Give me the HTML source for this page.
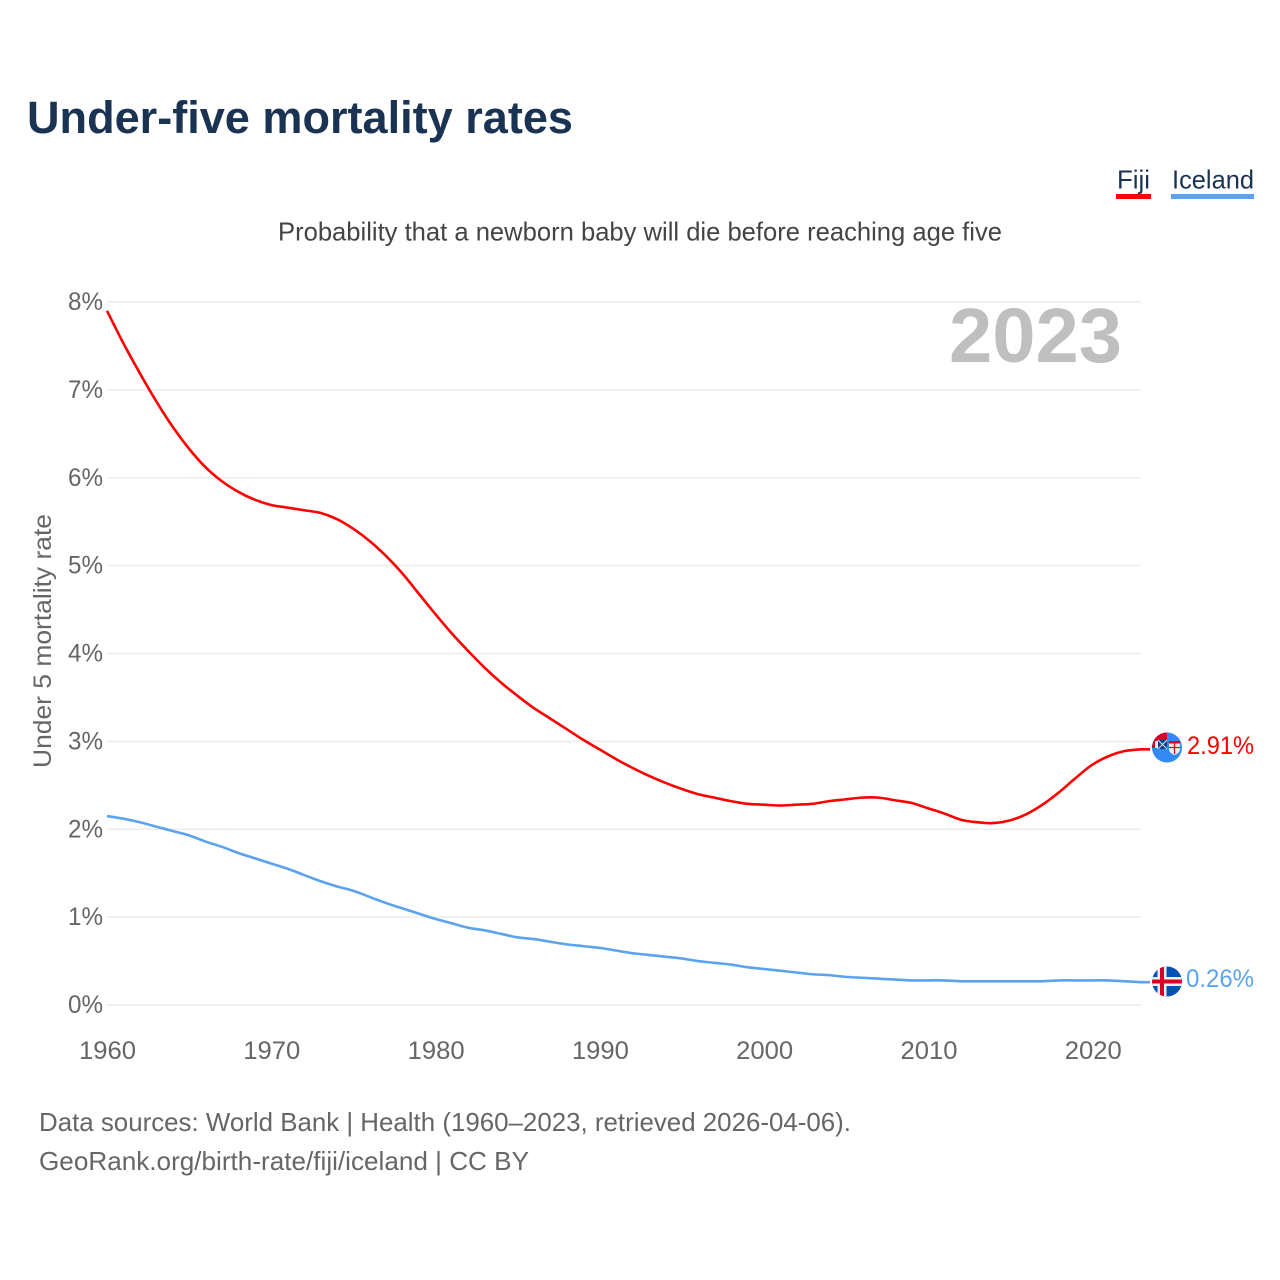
<!DOCTYPE html>
<html lang="en">
<head>
<meta charset="utf-8">
<title>Under-five mortality rates</title>
<style>
  html, body { margin: 0; padding: 0; background: #fff; }
  svg { display: block; font-family: "Liberation Sans", sans-serif; }
</style>
</head>
<body>
<svg id="chart" xmlns="http://www.w3.org/2000/svg" width="1280" height="1280" viewBox="0 0 1280 1280">
  <rect width="1280" height="1280" fill="#fff"/>
  <text x="27" y="133" font-size="45" font-weight="700" fill="#1b3353" textLength="546" lengthAdjust="spacingAndGlyphs">Under-five mortality rates</text>
  <g>
    <text x="1117" y="188.5" font-size="26" fill="#1b3353" textLength="33" lengthAdjust="spacingAndGlyphs">Fiji</text>
    <rect x="1116" y="194" width="35" height="5" fill="#ff0000"/>
  </g>
  <g>
    <text x="1172" y="188.5" font-size="26" fill="#1b3353" textLength="82" lengthAdjust="spacingAndGlyphs">Iceland</text>
    <rect x="1171" y="194" width="83" height="5" fill="#5ba3ee"/>
  </g>
  <text x="278" y="240.5" font-size="26" fill="#444" textLength="724" lengthAdjust="spacingAndGlyphs">Probability that a newborn baby will die before reaching age five</text>
  <g id="grid"></g>
  <g id="yticks"></g>
  <g id="xticks"></g>
  <text transform="translate(51,768) rotate(-90)" font-size="25" fill="#666" textLength="254" lengthAdjust="spacingAndGlyphs">Under 5 mortality rate</text>
  <text x="949" y="362" font-size="77" font-weight="700" fill="#bfbfbf" textLength="173" lengthAdjust="spacingAndGlyphs">2023</text>
  <g id="lines"></g>

  <defs>
    <clipPath id="fiji-clip"><circle cx="1167" cy="747.5" r="15"/></clipPath>
    <clipPath id="iceland-clip"><circle cx="1167" cy="981.5" r="15"/></clipPath>
  </defs>
  <g clip-path="url(#fiji-clip)">
    <rect x="1151" y="732" width="32" height="31" fill="#338af3"/>
    <rect x="1151" y="732" width="16" height="16" fill="#d80027"/>
    <rect x="1155" y="741" width="3" height="7" fill="#f0f0f0"/>
    <rect x="1158" y="740" width="9" height="9" fill="#0b3f8f"/>
    <path d="M1158 740l9 9M1167 740l-9 9" stroke="#dfe6f2" stroke-width="1"/>
    <path d="M1169 741h11v8q0 4-5.5 6q-5.500-2-5.500-6z" fill="#f0f0f0"/>
    <rect x="1169" y="741" width="11" height="2.500" fill="#d80027"/>
    <path d="M1174.500 743v11M1169 747.500h11" stroke="#d80027" stroke-width="1.3"/>
  </g>
  <g clip-path="url(#iceland-clip)">
    <rect x="1152" y="966" width="30" height="31" fill="#0052b4"/>
    <rect x="1152" y="977" width="30" height="9" fill="#f0f0f0"/>
    <rect x="1157.500" y="966" width="9" height="31" fill="#f0f0f0"/>
    <rect x="1152" y="979.500" width="30" height="4" fill="#d80027"/>
    <rect x="1160" y="966" width="4" height="31" fill="#d80027"/>
  </g>
  <text x="1187" y="754" font-size="25" fill="#ff0000" textLength="67" lengthAdjust="spacingAndGlyphs">2.91%</text>
  <text x="1186" y="987" font-size="25" fill="#5ba3ee" textLength="68" lengthAdjust="spacingAndGlyphs">0.26%</text>

  <text x="39" y="1131" font-size="26" fill="#666" textLength="812" lengthAdjust="spacingAndGlyphs">Data sources: World Bank | Health (1960–2023, retrieved 2026-04-06).</text>
  <text x="39" y="1170" font-size="26" fill="#666" textLength="490" lengthAdjust="spacingAndGlyphs">GeoRank.org/birth-rate/fiji/iceland | CC BY</text>
</svg>
<script>
const startYear = 1960;
const yTickValues = [0, 1, 2, 3, 4, 5, 6, 7, 8];
const xTickYears = [1960, 1970, 1980, 1990, 2000, 2010, 2020];
const fijiValues = [7.90, 7.53, 7.19, 6.87, 6.58, 6.33, 6.12, 5.96, 5.84, 5.75,
  5.69, 5.66, 5.63, 5.60, 5.53, 5.42, 5.28, 5.11, 4.91, 4.68,
  4.45, 4.23, 4.03, 3.84, 3.67, 3.52, 3.38, 3.26, 3.14, 3.02,
  2.91, 2.80, 2.70, 2.61, 2.53, 2.46, 2.40, 2.36, 2.32, 2.29,
  2.28, 2.27, 2.28, 2.29, 2.32, 2.34, 2.36, 2.36, 2.33, 2.30,
  2.24, 2.18, 2.11, 2.08, 2.07, 2.10, 2.17, 2.28, 2.42, 2.58,
  2.73, 2.83, 2.89, 2.91];
const icelandValues = [2.15, 2.12, 2.08, 2.03, 1.98, 1.93, 1.86, 1.80, 1.73, 1.67,
  1.61, 1.55, 1.48, 1.41, 1.35, 1.30, 1.23, 1.16, 1.10, 1.04,
  0.98, 0.93, 0.88, 0.85, 0.81, 0.77, 0.75, 0.72, 0.69, 0.67,
  0.65, 0.62, 0.59, 0.57, 0.55, 0.53, 0.50, 0.48, 0.46, 0.43,
  0.41, 0.39, 0.37, 0.35, 0.34, 0.32, 0.31, 0.30, 0.29, 0.28,
  0.28, 0.28, 0.27, 0.27, 0.27, 0.27, 0.27, 0.27, 0.28, 0.28,
  0.28, 0.28, 0.27, 0.26];

const NS = 'http://www.w3.org/2000/svg';
const xScale = function (year) { return 107 + (year - 1960) * (1141 - 107) / 63; };
const yScale = function (value) { return 1005 - value * (1005 - 302) / 8; };
const xLabelScale = function (year) { return 107.5 + (year - 1960) * 16.43; };

const gridGroup = document.getElementById('grid');
const yTickGroup = document.getElementById('yticks');
const xTickGroup = document.getElementById('xticks');
const lineGroup = document.getElementById('lines');

yTickValues.forEach(function (v) {
  const line = document.createElementNS(NS, 'line');
  
  
  line.setAttribute('x1', 107);
  line.setAttribute('x2', 1141);
  line.setAttribute('y1', yScale(v));
  line.setAttribute('y2', yScale(v));
  line.setAttribute('stroke', '#ececec');
  line.setAttribute('stroke-width', 1.5);
  gridGroup.appendChild(line);

  const label = document.createElementNS(NS, 'text');
  
  
  label.setAttribute('x', 68);
  label.setAttribute('y', yScale(v) + 8);
  label.setAttribute('font-size', 25);
  label.setAttribute('fill', '#666');
  label.setAttribute('textLength', 35);
  label.setAttribute('lengthAdjust', 'spacingAndGlyphs');
  label.textContent = v + '%';
  yTickGroup.appendChild(label);
});

xTickYears.forEach(function (year) {
  const label = document.createElementNS(NS, 'text');
  
  
  label.setAttribute('x', xLabelScale(year) - 28.5);
  label.setAttribute('y', 1059);
  label.setAttribute('font-size', 25);
  label.setAttribute('fill', '#666');
  label.setAttribute('textLength', 57);
  label.setAttribute('lengthAdjust', 'spacingAndGlyphs');
  label.textContent = String(year);
  xTickGroup.appendChild(label);
});

function buildPath(values) {
  const pts = values.map(function (v, i) {
    return [xScale(startYear + i), yScale(v)];
  });
  let d = 'M' + pts[0][0].toFixed(2) + ' ' + pts[0][1].toFixed(2);
  for (let i = 0; i < pts.length - 1; i++) {
    const p0 = pts[Math.max(i - 1, 0)];
    const p1 = pts[i];
    const p2 = pts[i + 1];
    const p3 = pts[Math.min(i + 2, pts.length - 1)];
    const c1x = p1[0] + (p2[0] - p0[0]) / 6;
    const c1y = p1[1] + (p2[1] - p0[1]) / 6;
    const c2x = p2[0] - (p3[0] - p1[0]) / 6;
    const c2y = p2[1] - (p3[1] - p1[1]) / 6;
    d += 'C' + c1x.toFixed(2) + ' ' + c1y.toFixed(2) + ' ' + c2x.toFixed(2) + ' ' + c2y.toFixed(2) + ' ' + p2[0].toFixed(2) + ' ' + p2[1].toFixed(2);
  }
  d += 'L1150 ' + pts[pts.length - 1][1].toFixed(2);
  return d;
}

const icelandLine = document.createElementNS(NS, 'path');


icelandLine.setAttribute('d', buildPath(icelandValues));
icelandLine.setAttribute('fill', 'none');
icelandLine.setAttribute('stroke', '#5ba3ee');
icelandLine.setAttribute('stroke-width', 2.6);
icelandLine.setAttribute('stroke-linejoin', 'round');
lineGroup.appendChild(icelandLine);

const fijiLine = document.createElementNS(NS, 'path');


fijiLine.setAttribute('d', buildPath(fijiValues));
fijiLine.setAttribute('fill', 'none');
fijiLine.setAttribute('stroke', '#ff0000');
fijiLine.setAttribute('stroke-width', 2.6);
fijiLine.setAttribute('stroke-linejoin', 'round');
lineGroup.appendChild(fijiLine);
</script>
</body>
</html>
